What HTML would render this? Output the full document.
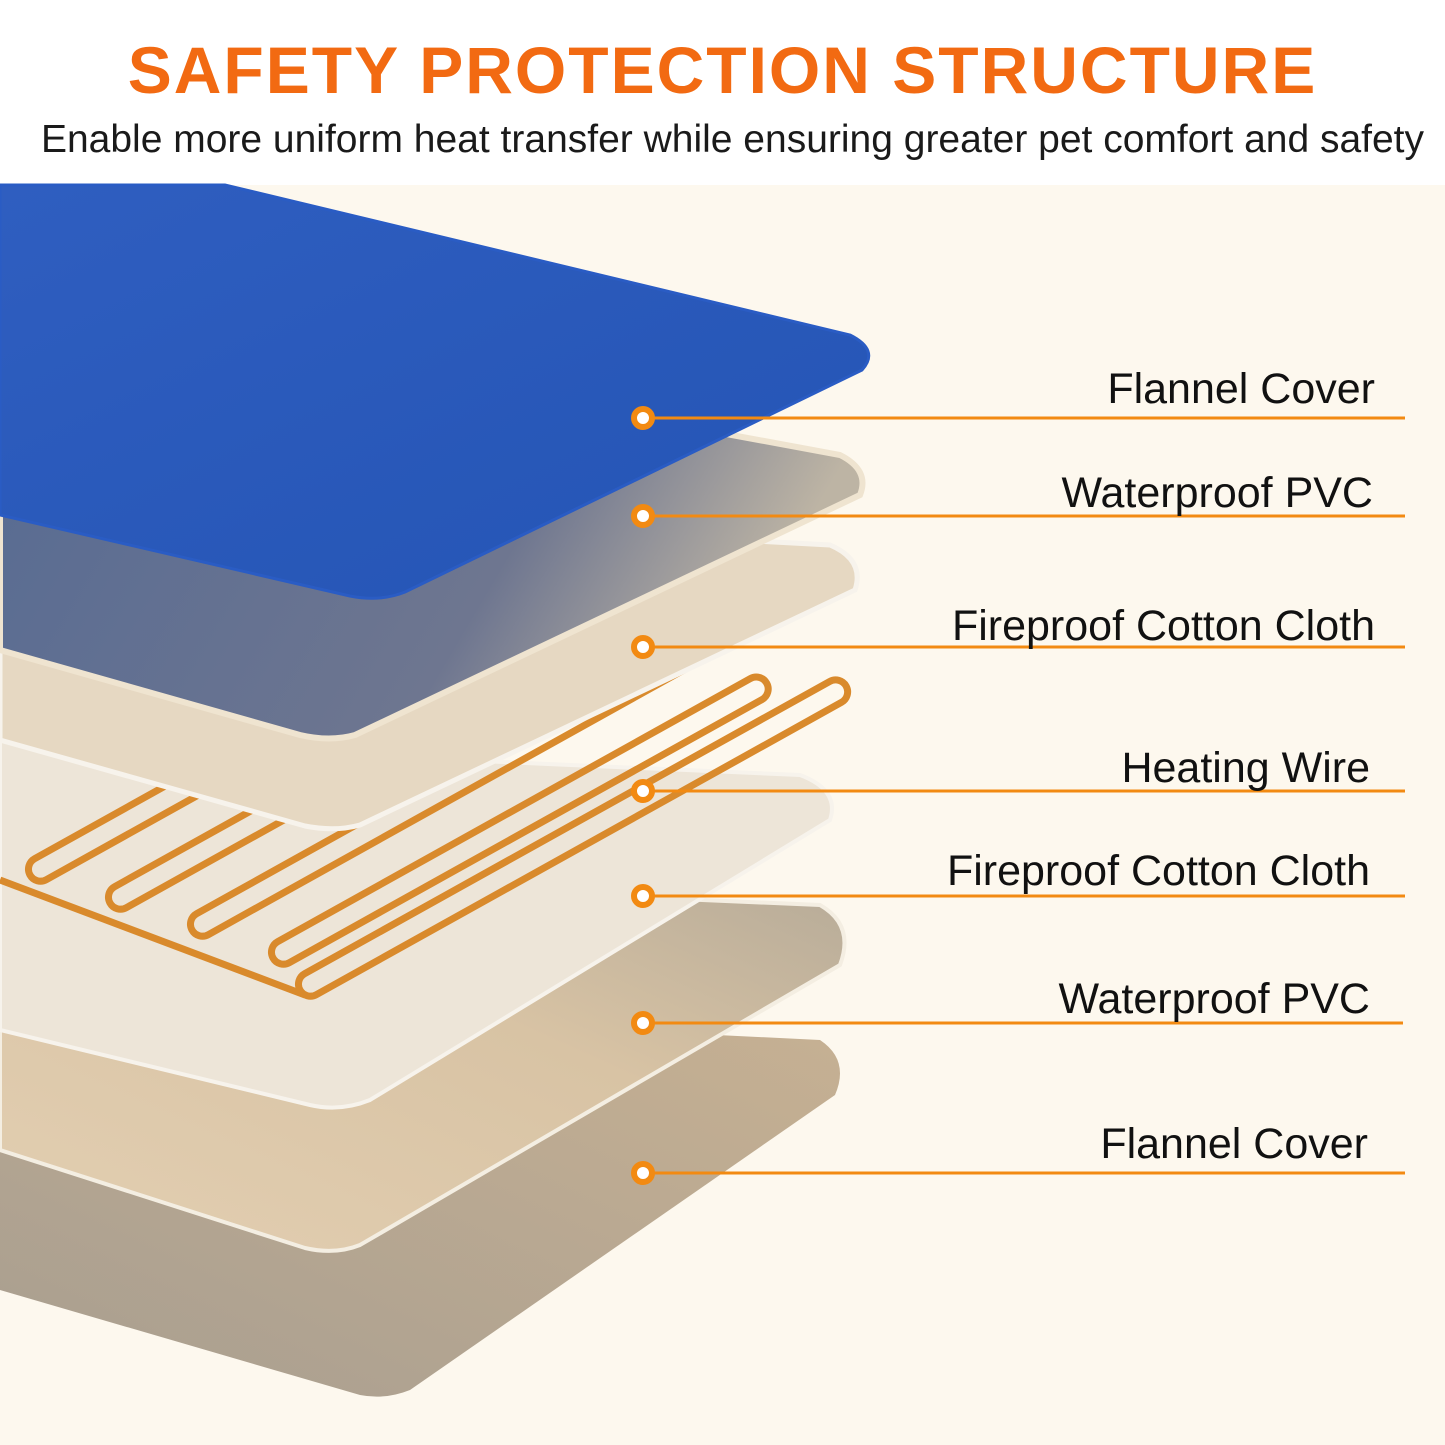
<!DOCTYPE html>
<html><head><meta charset="utf-8"><style>
html,body{margin:0;padding:0;background:#fff;}
body{width:1445px;height:1445px;overflow:hidden;position:relative;font-family:"Liberation Sans",sans-serif;}
.title{position:absolute;top:30px;left:0;width:1445px;text-align:center;color:#f26a12;font-weight:bold;font-size:66px;letter-spacing:2px;line-height:80px;}
.sub{position:absolute;top:115px;left:0;width:1445px;text-align:center;color:#1a1a1a;font-size:39px;line-height:50px;padding-left:20px;box-sizing:border-box;}
svg{position:absolute;top:0;left:0;}
</style></head><body>
<svg width="1445" height="1445" viewBox="0 0 1445 1445">
<defs>
<linearGradient id="blue" x1="0" y1="0" x2="1" y2="1"><stop offset="0" stop-color="#2f5ec0"/><stop offset="1" stop-color="#2454b4"/></linearGradient>
<linearGradient id="pvc1" x1="0" y1="0" x2="1" y2="0.3"><stop offset="0" stop-color="#556a93"/><stop offset="0.7" stop-color="#6e7690"/><stop offset="1" stop-color="#bdb4a4"/></linearGradient>
<linearGradient id="pvc2" x1="0" y1="1" x2="1" y2="0"><stop offset="0" stop-color="#e3cfb2"/><stop offset="0.6" stop-color="#d8c3a4"/><stop offset="1" stop-color="#b5aa98"/></linearGradient>
<linearGradient id="fl2" x1="0" y1="1" x2="1" y2="0"><stop offset="0" stop-color="#a89e90"/><stop offset="1" stop-color="#c7b193"/></linearGradient>
</defs>
<rect x="0" y="185" width="1445" height="1260" fill="#fdf8ee"/>
<path d="M0,1000 L820,1040 Q850,1060 835,1095 L410,1390 Q385,1400 360,1395 L0,1290 Z" fill="url(#fl2)"/>
<path d="M0,870 L820,905 Q855,925 840,965 L360,1245 Q335,1255 305,1248 L0,1150 Z" fill="url(#pvc2)" stroke="#f4eee2" stroke-width="4"/>
<path d="M0,740 L800,775 Q840,790 830,820 L370,1100 Q340,1112 310,1105 L0,1030 Z" fill="#ede5d8" stroke="#f7f3ec" stroke-width="4"/>
<g fill="none" stroke="#d98a2c" stroke-width="7">
<path d="M0,880 L305,995"/>
<g transform="translate(30,875) rotate(-29.1)"><rect x="0" y="-12" width="720" height="24" rx="12"/></g>
<g transform="translate(110,903) rotate(-29.1)"><rect x="0" y="-12" width="720" height="24" rx="12"/></g>
<g transform="translate(192,930) rotate(-29.1)"><rect x="0" y="-12" width="720" height="24" rx="12"/></g>
<g transform="translate(273,958) rotate(-29.1)"><rect x="0" y="-12" width="565" height="24" rx="12"/></g>
<g transform="translate(300,990) rotate(-29.1)"><rect x="0" y="-12" width="625" height="24" rx="12"/></g>
</g>
<path d="M0,500 L830,545 Q865,560 855,590 L360,825 Q335,832 305,826 L0,740 Z" fill="#e6d8c2" stroke="#f7f3ec" stroke-width="5"/>
<path d="M0,300 L840,455 Q870,470 860,495 L355,735 Q330,742 300,735 L0,650 Z" fill="url(#pvc1)" stroke="#efe4d0" stroke-width="6"/>
<path d="M0,185 L225,185 L850,335 Q880,350 862,370 L405,592 Q380,602 350,596 L0,515 Z" fill="url(#blue)" stroke="#2a5cc4" stroke-width="3"/>
<g stroke="#f28a12" stroke-width="3">
<line x1="643" y1="418" x2="1405" y2="418"/>
<line x1="643" y1="516" x2="1405" y2="516"/>
<line x1="643" y1="647" x2="1405" y2="647"/>
<line x1="643" y1="791" x2="1405" y2="791"/>
<line x1="643" y1="896" x2="1405" y2="896"/>
<line x1="643" y1="1023" x2="1403" y2="1023"/>
<line x1="643" y1="1173" x2="1405" y2="1173"/>
</g>
<g fill="#fff" stroke="#f28a12" stroke-width="6">
<circle cx="643" cy="418" r="9"/><circle cx="643" cy="516" r="9"/><circle cx="643" cy="647" r="9"/><circle cx="643" cy="791" r="9"/><circle cx="643" cy="896" r="9"/><circle cx="643" cy="1023" r="9"/><circle cx="643" cy="1173" r="9"/>
</g>
<g font-family="Liberation Sans, sans-serif" font-size="43" fill="#111" text-anchor="end">
<text x="1375" y="403">Flannel Cover</text>
<text x="1373" y="507">Waterproof PVC</text>
<text x="1375" y="640">Fireproof Cotton Cloth</text>
<text x="1370" y="782">Heating Wire</text>
<text x="1370" y="885">Fireproof Cotton Cloth</text>
<text x="1370" y="1013">Waterproof PVC</text>
<text x="1368" y="1158">Flannel Cover</text>
</g>
</svg>
<div class="title">SAFETY PROTECTION STRUCTURE</div>
<div class="sub">Enable more uniform heat transfer while ensuring greater pet comfort and safety</div>
</body></html>
